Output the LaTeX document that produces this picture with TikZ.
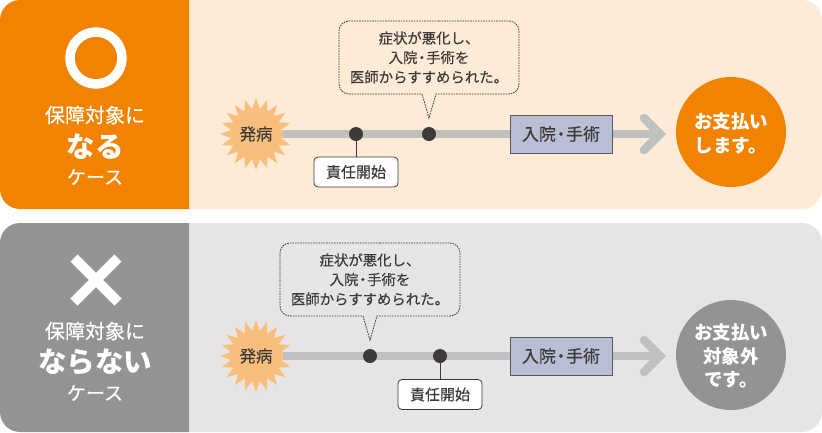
\documentclass[tikz,border=0pt]{standalone}
\usepackage{fontspec}
\setmainfont{Noto Sans CJK JP}
\newfontfamily\medf[FakeBold=0.35]{Noto Sans CJK JP}
\usetikzlibrary{shapes.geometric}
\definecolor{orangeC}{HTML}{F28300}
\definecolor{peachC}{HTML}{FDEBD8}
\definecolor{greyC}{HTML}{929493}
\definecolor{lightC}{HTML}{E5E5E5}
\definecolor{lineC}{HTML}{BFC1BF}
\definecolor{burstC}{HTML}{F9BE7C}
\definecolor{inkC}{HTML}{3E3A39}
\definecolor{boxC}{HTML}{B8BED3}
\newcommand{\surgery}{入院\hspace{-0.2em}・\hspace{-0.2em}手術}
\tikzset{
  x=1pt,y=-1pt,
  every node/.style={inner sep=0pt,outer sep=0pt,text=inkC,align=center},
  burst/.style={star,star points=20,star point ratio=1.42,minimum size=72pt,fill=burstC,font=\fontsize{16.5}{16.5}\selectfont\medf},
  track/.style={draw=lineC,line width=8pt,shorten <=27pt},
  chev/.style={draw=lineC,line width=8.5pt,line cap=round,line join=miter},
  dot/.style={circle,fill=inkC,minimum size=14pt},
  tag/.style={draw=inkC,line width=0.8pt,fill=white,rounded corners=4pt,minimum width=84pt,minimum height=30pt,font=\fontsize{15}{15}\selectfont\medf},
  stage/.style={draw=inkC!85,line width=1pt,fill=boxC,minimum width=102pt,minimum height=38pt,font=\fontsize{17}{17}\selectfont\medf},
  stem/.style={draw=inkC,line width=0.8pt},
  bubble/.style={draw=inkC,line width=0.8pt,dash pattern=on 1.6pt off 1pt},
  btext/.style={font=\fontsize{14.4}{19.5}\selectfont\medf},
  result/.style={circle,minimum size=110pt},
  rtext/.style={text=white,font=\fontsize{18.5}{23.5}\selectfont\bfseries},
  sideA/.style={text=white,font=\fontsize{20}{20}\selectfont\medf},
  sideB/.style={text=white,font=\fontsize{28.5}{28}\selectfont\bfseries},
  sideC/.style={text=white,font=\fontsize{19}{19}\selectfont\medf},
}
\newcommand{\panel}[4]{% top y, bottom y, light, dark
  \fill[#3,rounded corners=20pt] (150,#1) rectangle (822,#2);
  \fill[#4] (189,#1) [rounded corners=20pt] -- (0,#1) -- (0,#2) [sharp corners] -- (189,#2) -- cycle;
}
\newcommand{\bubblepath}[3]{% left x, top y, tip x
  \draw[bubble,rounded corners=10pt] (#3,#2) -- (#1+180,#2) -- (#1+180,#2+73) [sharp corners] -- (#3+7,#2+73) -- (#3,#2+97) -- (#3-7,#2+73) [rounded corners=10pt] -- (#1,#2+73) -- (#1,#2) -- cycle;
}
\begin{document}
\begin{tikzpicture}
\useasboundingbox (0,0) rectangle (822,432);
\panel{0}{209}{peachC}{orangeC}
\panel{223}{432}{lightC}{greyC}

% top row
\draw[white,line width=9.5pt] (96,58) circle[radius=26];
\node[sideA] (a1) at (95,115) {保障対象に};
\node[sideB] (a2) at (95,147) {なる};
\node[sideC] (a3) at (95,177) {ケース};

\coordinate (ta) at (660,134);
\coordinate (tb) at (644,118);
\coordinate (tc) at (644,150);
\node[burst] (b1) at (256,134) {発病};
\draw[track] (b1.center) -- (ta);
\draw[chev] (tb) -- (ta) -- (tc);
\node[stage] (s1) at (561,134) {\surgery};
\node[dot] (d1) at (356,134) {};
\node[dot] (d2) at (429,134) {};
\node[tag] (t1) at (356,172) {責任開始};
\draw[stem] (d1) -- (t1);
\bubblepath{339}{21}{429}
\node[btext] (n1) at (429,57.5) {症状が悪化し、\\\surgery を\\医師からすすめられた。};
\node[result,fill=orangeC] (r1) at (731,132) {};
\node[rtext] (r1t) at (731,133.5) {お支払い\\します。};

% bottom row
\draw[white,line width=10pt] (74,258) -- (118,302);
\draw[white,line width=10pt] (118,258) -- (74,302);
\node[sideA] (c1) at (95,331) {保障対象に};
\node[sideB] (c2) at (95,362) {ならない};
\node[sideC] (c3) at (95,393) {ケース};

\coordinate (ua) at (660,356);
\coordinate (ub) at (644,340);
\coordinate (uc) at (644,372);
\node[burst] (b2) at (256,356) {発病};
\draw[track] (b2.center) -- (ua);
\draw[chev] (ub) -- (ua) -- (uc);
\node[stage] (s2) at (561,356) {\surgery};
\node[dot] (d3) at (370,356) {};
\node[dot] (d4) at (440,356) {};
\node[tag] (t2) at (440,394.5) {責任開始};
\draw[stem] (d4) -- (t2);
\bubblepath{280}{243}{370}
\node[btext] (n2) at (370,279.5) {症状が悪化し、\\\surgery を\\医師からすすめられた。};
\node[result,fill=greyC] (r2) at (731,355) {};
\node[rtext] (r2t) at (731,356) {お支払い\\対象外\\です。};
\end{tikzpicture}
\end{document}
